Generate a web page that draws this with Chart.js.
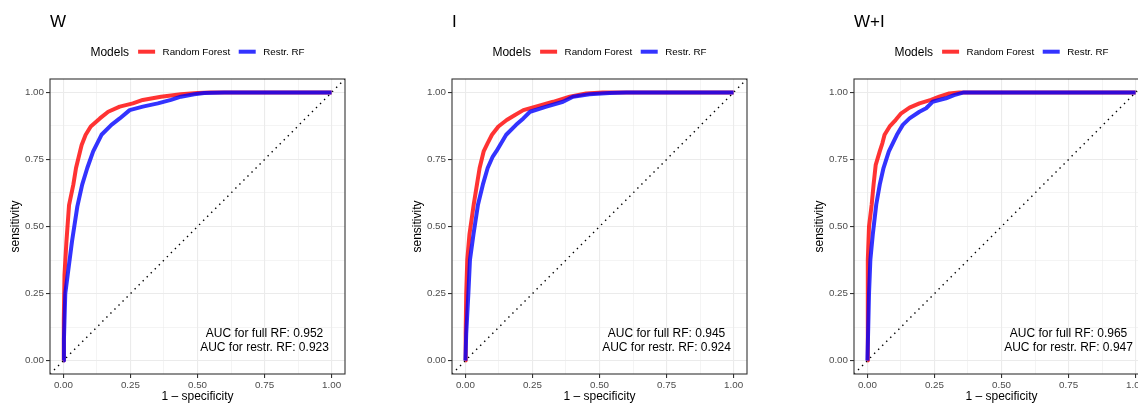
<!DOCTYPE html>
<html>
<head>
<meta charset="utf-8">
<script src="https://cdn.jsdelivr.net/npm/chart.js@4.4.0/dist/chart.umd.min.js"></script>
<style>
  html, body { margin: 0; padding: 0; background: #fff; }
  body { width: 1138px; height: 403px; overflow: hidden; position: relative; }
  canvas { position: absolute; top: 0; }
</style>
</head>
<body>
<canvas id="rocW" width="402" height="403" style="left:0px"></canvas>
<canvas id="rocI" width="402" height="403" style="left:402px"></canvas>
<canvas id="rocWI" width="402" height="403" style="left:804px"></canvas>
<script>
// ---- data ----
const panelTitles = ['W', 'I', 'W+I'];
const seriesNames = ['Random Forest', 'Restr. RF'];
const aucFull  = ['0.952', '0.945', '0.965'];
const aucRestr = ['0.923', '0.924', '0.947'];

const majorTicks = [0, 0.25, 0.5, 0.75, 1];
const minorTicks = [0.125, 0.375, 0.625, 0.875];
const axisLimits = [-0.05, 1.05];

// panel W
const fprW_rf = [0, 0.001, 0.002, 0.004, 0.011, 0.021, 0.037, 0.047, 0.062, 0.068, 0.083, 0.102, 0.136, 0.167, 0.21, 0.259, 0.296, 0.364, 0.438, 0.5, 0.55, 1];
const tprW_rf = [0, 0.08, 0.15, 0.32, 0.44, 0.58, 0.656, 0.718, 0.78, 0.804, 0.842, 0.873, 0.903, 0.928, 0.947, 0.959, 0.972, 0.984, 0.993, 0.998, 1, 1];
const fprW_rr = [0, 0.002, 0.004, 0.007, 0.016, 0.032, 0.052, 0.07, 0.089, 0.111, 0.142, 0.179, 0.21, 0.247, 0.296, 0.352, 0.401, 0.438, 0.488, 0.525, 0.6, 1];
const tprW_rr = [0, 0.08, 0.15, 0.25, 0.32, 0.444, 0.575, 0.656, 0.718, 0.78, 0.842, 0.879, 0.903, 0.934, 0.947, 0.959, 0.972, 0.984, 0.993, 0.998, 1, 1];

// panel I
const fprI_rf = [0, 0.001, 0.003, 0.007, 0.015, 0.031, 0.043, 0.053, 0.068, 0.083, 0.099, 0.123, 0.154, 0.185, 0.216, 0.272, 0.327, 0.389, 0.45, 0.512, 1];
const tprI_rf = [0, 0.1, 0.25, 0.376, 0.47, 0.582, 0.656, 0.718, 0.78, 0.811, 0.842, 0.873, 0.897, 0.916, 0.934, 0.95, 0.965, 0.984, 0.996, 1, 1];
const fprI_rr = [0, 0.003, 0.011, 0.017, 0.03, 0.047, 0.065, 0.083, 0.102, 0.115, 0.152, 0.189, 0.216, 0.241, 0.302, 0.364, 0.401, 0.463, 0.537, 0.6, 1];
const tprI_rr = [0, 0.1, 0.25, 0.376, 0.47, 0.582, 0.656, 0.718, 0.761, 0.78, 0.842, 0.879, 0.903, 0.928, 0.947, 0.965, 0.984, 0.993, 0.998, 1, 1];

// panel W+I
const fprWI_rf = [0, 0.001, 0.002, 0.006, 0.016, 0.023, 0.031, 0.046, 0.056, 0.064, 0.083, 0.105, 0.126, 0.157, 0.194, 0.237, 0.268, 0.305, 0.342, 1];
const tprWI_rf = [0, 0.15, 0.376, 0.5, 0.582, 0.656, 0.73, 0.78, 0.811, 0.842, 0.873, 0.897, 0.922, 0.943, 0.959, 0.972, 0.984, 0.996, 1, 1];
const fprWI_rr = [0, 0.003, 0.006, 0.011, 0.02, 0.033, 0.046, 0.06, 0.08, 0.095, 0.11, 0.132, 0.157, 0.194, 0.219, 0.243, 0.293, 0.323, 0.36, 1];
const tprWI_rr = [0, 0.12, 0.25, 0.376, 0.47, 0.582, 0.656, 0.718, 0.78, 0.811, 0.842, 0.879, 0.903, 0.928, 0.941, 0.965, 0.978, 0.99, 1, 1];

// ---- style ----
const FONT = "'Liberation Sans', Arial, Helvetica, sans-serif";
const RED  = 'rgba(255,0,0,0.8)';
const BLUE = 'rgba(0,0,255,0.8)';
Chart.defaults.font.family = FONT;

const pts = (xs, ys) => xs.map((x, i) => ({ x, y: ys[i] }));
const isMajor = v => majorTicks.some(m => Math.abs(m - v) < 1e-9);
const allTicks = [...majorTicks, ...minorTicks].sort((a, b) => a - b);

function axis(title, isX) {
  return {
    type: 'linear',
    min: axisLimits[0],
    max: axisLimits[1],
    afterBuildTicks: s => { s.ticks = allTicks.map(v => ({ value: v })); },
    afterFit: s => { if (isX) s.height = 29; else s.width = 50; },
    ticks: {
      autoSkip: false, maxRotation: 0, padding: isX ? 1 : 2,
      color: '#4D4D4D', font: { size: 9.8 },
      callback: v => isMajor(v) ? v.toFixed(2) : ''
    },
    grid: {
      color: '#EBEBEB',
      lineWidth: c => (c.tick && isMajor(c.tick.value)) ? 1.1 : 0.55,
      tickLength: 4, tickWidth: 1.1,
      tickColor: c => (c.tick && isMajor(c.tick.value)) ? '#333333' : 'rgba(0,0,0,0)'
    },
    border: { display: false },
    title: {
      display: true, text: title, color: '#000',
      font: { size: 12, lineHeight: 1 },
      padding: isX ? { top: 0, bottom: 0 } : { top: 10, bottom: 0 }
    }
  };
}

// title, legend, panel border and AUC text
const panelDecor = {
  id: 'panelDecor',
  afterDraw(chart, args, o) {
    const { ctx, chartArea: a, scales } = chart;
    ctx.save();
    ctx.strokeStyle = '#333333';
    ctx.lineWidth = 1.1;
    ctx.strokeRect(a.left, a.top, a.right - a.left, a.bottom - a.top);

    ctx.fillStyle = '#000';
    ctx.textBaseline = 'alphabetic';
    ctx.textAlign = 'left';
    ctx.font = `17px ${FONT}`;
    ctx.fillText(o.title, a.left, 26.5);

    // legend
    ctx.font = `12px ${FONT}`;
    const wM = ctx.measureText('Models').width;
    ctx.font = `9.8px ${FONT}`;
    const w1 = ctx.measureText(seriesNames[0]).width;
    const w2 = ctx.measureText(seriesNames[1]).width;
    const total = wM + 9 + 17 + 7.7 + w1 + 8.6 + 17 + 7.3 + w2;
    let x = (a.left + a.right) / 2 - total / 2;
    ctx.font = `12px ${FONT}`;
    ctx.fillText('Models', x, 56.3);
    x += wM + 9;
    ctx.lineWidth = 4;
    ctx.lineCap = 'butt';
    [[RED, seriesNames[0], w1, 8.6], [BLUE, seriesNames[1], w2, 0]].forEach(([col, lab, w, gap]) => {
      ctx.strokeStyle = col;
      ctx.beginPath(); ctx.moveTo(x, 51.7); ctx.lineTo(x + 17, 51.7); ctx.stroke();
      x += 17 + 7.5;
      ctx.font = `9.8px ${FONT}`;
      ctx.fillText(lab, x, 55);
      x += w + gap;
    });

    // AUC annotation
    ctx.font = `12px ${FONT}`;
    ctx.textAlign = 'center';
    ctx.textBaseline = 'middle';
    const cx = scales.x.getPixelForValue(0.75);
    ctx.fillText(`AUC for full RF: ${o.aucFull}`, cx, scales.y.getPixelForValue(0.1));
    ctx.fillText(`AUC for restr. RF: ${o.aucRestr}`, cx, scales.y.getPixelForValue(0.047));
    ctx.restore();
  }
};

function makePanel(id, i, fprRF, tprRF, fprRR, tprRR) {
  new Chart(document.getElementById(id), {
    type: 'line',
    data: {
      datasets: [
        { label: seriesNames[1], data: pts(fprRR, tprRR), borderColor: BLUE, borderWidth: 4,
          pointRadius: 0, tension: 0, borderJoinStyle: 'round', order: 1 },
        { label: seriesNames[0], data: pts(fprRF, tprRF), borderColor: RED, borderWidth: 4,
          pointRadius: 0, tension: 0, borderJoinStyle: 'round', order: 2 },
        { label: 'diag', data: pts(axisLimits, axisLimits), borderColor: '#000', borderWidth: 1.4,
          borderDash: [1.4, 4.3], pointRadius: 0, order: 3 }
      ]
    },
    options: {
      responsive: false,
      animation: false,
      devicePixelRatio: 1,
      events: [],
      layout: { padding: { top: 79, right: 57, bottom: 0, left: 0 } },
      scales: { x: axis('1 \u2013 specificity', true), y: axis('sensitivity', false) },
      plugins: {
        legend: { display: false },
        tooltip: { enabled: false },
        title: { display: false },
        panelDecor: { title: panelTitles[i], aucFull: aucFull[i], aucRestr: aucRestr[i] }
      }
    },
    plugins: [panelDecor]
  });
}

makePanel('rocW', 0, fprW_rf, tprW_rf, fprW_rr, tprW_rr);
makePanel('rocI', 1, fprI_rf, tprI_rf, fprI_rr, tprI_rr);
makePanel('rocWI', 2, fprWI_rf, tprWI_rf, fprWI_rr, tprWI_rr);
</script>
</body>
</html>
